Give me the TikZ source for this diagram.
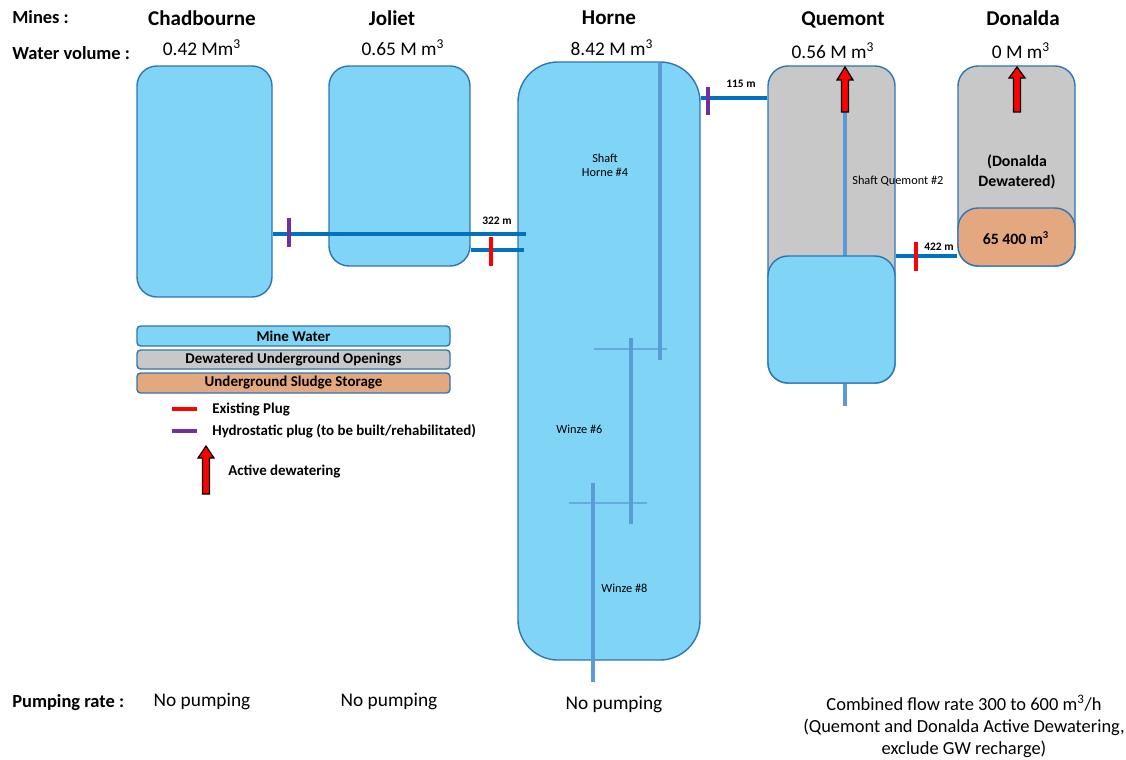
\documentclass[tikz,border=0pt]{standalone}
\usepackage{fontspec}
\setmainfont{Carlito}
\usetikzlibrary{fit}
\definecolor{water}{RGB}{128,212,245}
\definecolor{edge}{RGB}{46,117,182}
\definecolor{dry}{RGB}{200,200,200}
\definecolor{sludge}{RGB}{228,168,128}
\definecolor{pipec}{RGB}{0,112,192}
\definecolor{shaftc}{RGB}{91,155,213}
\definecolor{plugred}{RGB}{255,0,0}
\definecolor{plugpurple}{RGB}{112,48,160}
\newcommand\dewaterarrow[4]{%
  \filldraw[fill=plugred, draw=black, line width=0.7pt, line join=miter]
    (#1-3.5,#4) -- (#1-3.5,#3) -- (#1-8,#3) -- (#1,#2) -- (#1+8,#3) -- (#1+3.5,#3) -- (#1+3.5,#4) -- cycle;}
\begin{document}
\begin{tikzpicture}[x=0.02cm,y=-0.02cm,
  box/.style={draw=edge, line width=0.8pt, rounded corners=0.4cm, inner sep=0pt},
  waterbox/.style={box, fill=water},
  drybox/.style={box, fill=dry},
  sludgebox/.style={box, fill=sludge},
  legbar/.style={draw=edge, line width=0.8pt, rounded corners=2pt, inner sep=0pt,
     font=\fontsize{8.8}{10}\selectfont\bfseries},
  pipe/.style={draw=pipec, line width=2.6pt},
  shaft/.style={draw=shaftc, line width=2.6pt},
  levelline/.style={draw=shaftc, line width=0.6pt, opacity=0.7},
  redplug/.style={draw=plugred, line width=2.4pt},
  purpleplug/.style={draw=plugpurple, line width=2.4pt},
  header/.style={font=\fontsize{10.5}{12}\selectfont\bfseries, anchor=west, inner sep=0pt},
  minename/.style={font=\fontsize{12}{14}\selectfont\bfseries, inner sep=0pt},
  volume/.style={font=\fontsize{11}{13}\selectfont, inner sep=0pt},
  pumptext/.style={font=\fontsize{11}{12.6}\selectfont, inner sep=0pt, align=center},
  smalllabel/.style={font=\fontsize{7}{8.2}\selectfont, inner sep=0pt, align=center},
  distlabel/.style={font=\fontsize{6.5}{8}\selectfont\bfseries, inner sep=0pt},
  legtext/.style={font=\fontsize{8.5}{10}\selectfont\bfseries, anchor=west, inner sep=0pt},
  boldlabel/.style={font=\fontsize{9}{11.3}\selectfont\bfseries, inner sep=0pt, align=center}
]
\useasboundingbox (0,0) rectangle (1126,760);

% headers
\node[header] (hmines) at (12,17) {Mines :};
\node[header] (hvol) at (12,53) {Water volume :};
\node[header] (hpump) at (12,703) {Pumping rate :};

\node[minename] (nchad) at (202,18) {Chadbourne};
\node[minename] (njol) at (392,18) {Joliet};
\node[minename] (nhor) at (609,18) {Horne};
\node[minename, anchor=base] (nque) at (843,26) {Quemont};
\node[minename] (ndon) at (1023,18) {Donalda};

\node[volume] (vchad) at (202,48) {0.42 Mm\textsuperscript{3}};
\node[volume] (vjol) at (403,48) {0.65 M m\textsuperscript{3}};
\node[volume] (vhor) at (612,48) {8.42 M m\textsuperscript{3}};
\node[volume] (vque) at (833,51) {0.56 M m\textsuperscript{3}};
\node[volume] (vdon) at (1021,51) {0 M m\textsuperscript{3}};

% mine boxes
\node[waterbox, fit={(137,66) (272,297)}] (chad) {};
\node[waterbox, fit={(329,66) (470,266)}] (jol) {};
\node[waterbox, rounded corners=0.8cm, fit={(518,62) (700,660)}] (hor) {};
\node[drybox, fit={(768,66) (895,383)}] (queg) {};
\node[drybox, fit={(958,66) (1075,266)}] (dong) {};

% Horne shafts and levels
\draw[levelline] (594,349) -- (667,349);
\draw[levelline] (569,503) -- (647,503);
\draw[shaft] (660,63) -- (660,360);
\draw[shaft] (631,338) -- (631,524);
\draw[shaft] (593,483) -- (593,682);
\node[smalllabel] (lh4) at (605,165) {Shaft\\Horne \#4};
\node[smalllabel, anchor=west] (lw6) at (556,429) {Winze \#6};
\node[smalllabel, anchor=west] (lw8) at (601,588) {Winze \#8};

% Quemont shaft
\draw[shaft] (845,112) -- (845,406);
\node[waterbox, fit={(768,256) (895,383)}] (quew) {};
\node[smalllabel, anchor=west] (lq2) at (852,181) {Shaft Quemont \#2};
\dewaterarrow{845}{67}{80}{112}

% Donalda
\node[sludgebox, fit={(958,208) (1075,266)}] (dons) {};
\node[boldlabel] (ldw) at (1017,172) {(Donalda\\Dewatered)};
\node[boldlabel] (lsl) at (1016,238) {65 400 m\textsuperscript{3}};
\dewaterarrow{1017}{67}{78}{112}

% connections
\draw[pipe] (chad.east |- 0,234) -- ([xshift=0.18cm]hor.west |- 0,234);
\draw[pipe] (jol.east |- 0,250) -- ([xshift=0.14cm]hor.west |- 0,250);
\draw[pipe] (hor.east |- 0,98) -- (queg.west |- 0,98);
\draw[pipe] (quew.east |- 0,256) -- (dong.west |- 0,256);

\draw[purpleplug] (289,218) -- (289,247);
\draw[redplug] (491,237) -- (491,266);
\draw[purpleplug] (708,87) -- (708,115);
\draw[redplug] (916,242) -- (916,271);

\node[distlabel] (d322) at (497,221) {322 m};
\node[distlabel] (d115) at (741,84) {115 m};
\node[distlabel] (d422) at (939,247) {422 m};

% legend
\node[legbar, fill=water, fit={(137,326) (450,346)}] (legw) {};
\node[legbar, fill=dry, fit={(137,350) (450,369)}] (legd) {};
\node[legbar, fill=sludge, fit={(137,373) (450,393)}] (legs) {};
\node[legtext, anchor=center] at (legw.center) {Mine Water};
\node[legtext, anchor=center] at (legd.center) {Dewatered Underground Openings};
\node[legtext, anchor=center] at (legs.center) {Underground Sludge Storage};

\coordinate (rp1) at (172,409);
\coordinate (rp2) at (197,409);
\coordinate (pp1) at (172,431);
\coordinate (pp2) at (197,431);
\draw[plugred, line width=2.2pt] (rp1) -- (rp2);
\draw[plugpurple, line width=2.2pt] (pp1) -- (pp2);
\node[legtext] (lep) at (212,410) {Existing Plug};
\node[legtext] (lhp) at (212,431) {Hydrostatic plug (to be built/rehabilitated)};
\dewaterarrow{206}{446}{458}{494}
\node[legtext] (lad) at (228,472) {Active dewatering};

% pumping rates
\node[pumptext] (p1) at (202,702) {No pumping};
\node[pumptext] (p2) at (389,702) {No pumping};
\node[pumptext] (p3) at (614,705) {No pumping};
\node[pumptext, font=\fontsize{10.5}{12.5}\selectfont] (p4) at (964,726) {Combined flow rate 300 to 600 m\textsuperscript{3}/h\\(Quemont and Donalda Active Dewatering,\\exclude GW recharge)};
\end{tikzpicture}
\end{document}
